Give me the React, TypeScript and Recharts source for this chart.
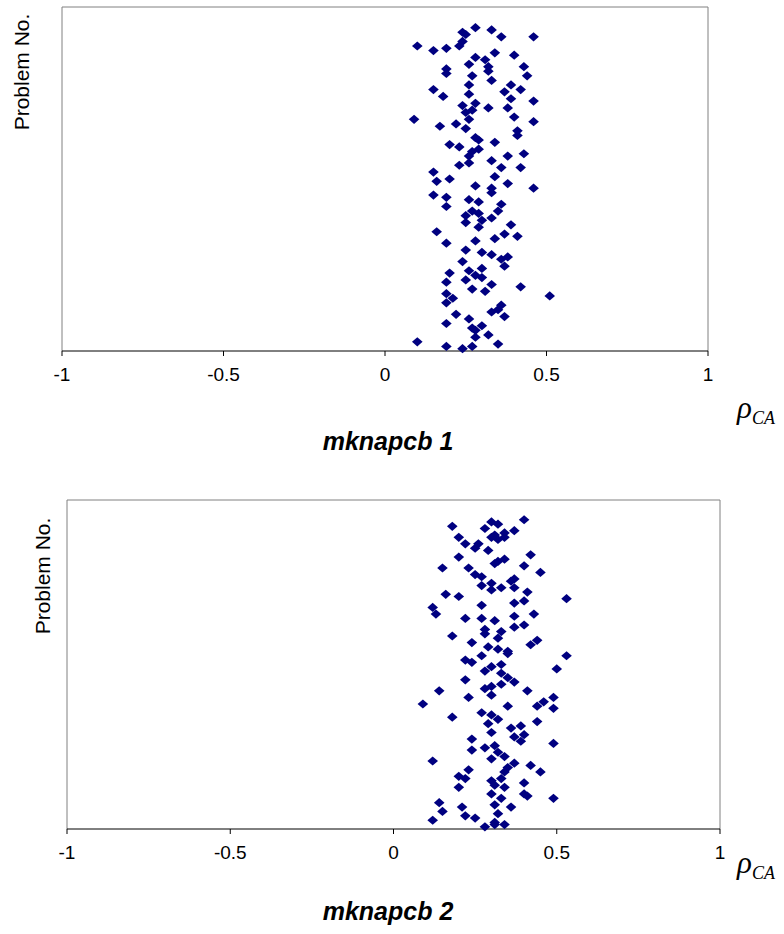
import React from "react";
import {
  ScatterChart, Scatter, XAxis, YAxis, ReferenceLine,
} from "recharts";

// rho_CA per problem (mknapcb 1)
const mknapcb1Rho = [
  0.28, 0.33, 0.24, 0.25, 0.36, 0.46, 0.24, 0.10, 0.23, 0.15, 0.19, 0.34, 0.40, 0.28, 0.31, 0.26,
  0.32, 0.43, 0.19, 0.19, 0.32, 0.44, 0.27, 0.33, 0.26, 0.39, 0.42, 0.15, 0.37, 0.18, 0.26, 0.39,
  0.46, 0.28, 0.24, 0.32, 0.38, 0.25, 0.27, 0.26, 0.40, 0.09, 0.46, 0.17, 0.22, 0.25, 0.41, 0.41,
  0.28, 0.29, 0.34, 0.20, 0.23, 0.27, 0.29, 0.26, 0.43, 0.38, 0.33, 0.26, 0.23, 0.36, 0.42, 0.15,
  0.34, 0.20, 0.16, 0.38, 0.28, 0.33, 0.46, 0.33, 0.15, 0.19, 0.26, 0.29, 0.19, 0.36, 0.27, 0.25,
  0.29, 0.35, 0.33, 0.30, 0.25, 0.29, 0.39, 0.16, 0.37, 0.41, 0.34, 0.19, 0.28, 0.25, 0.30, 0.33,
  0.38, 0.24, 0.36, 0.37, 0.30, 0.26, 0.20, 0.28, 0.30, 0.25, 0.19, 0.33, 0.42, 0.27, 0.31, 0.19,
  0.21, 0.51, 0.19, 0.36, 0.33, 0.35, 0.37, 0.22, 0.26, 0.19, 0.30, 0.27, 0.28, 0.32, 0.28, 0.10,
  0.35, 0.19, 0.27, 0.24,
];
const mknapcb1Problem = [
  141, 140, 139, 138, 137, 137, 135, 133, 133, 131, 132, 130, 129, 128, 127, 125,
  124, 124, 123, 121, 122, 120, 120, 118, 116, 116, 114, 114, 113, 111, 112, 110,
  109, 108, 107, 106, 106, 104, 105, 101, 102, 101, 100, 98, 99, 97, 96, 94,
  93, 92, 91, 90, 89, 87, 88, 85, 86, 85, 83, 82, 81, 80, 80, 78,
  76, 75, 74, 73, 72, 71, 71, 69, 68, 67, 66, 65, 63, 64, 61, 59,
  60, 61, 58, 57, 56, 54, 55, 52, 51, 50, 49, 47, 48, 44, 43, 42,
  41, 39, 40, 37, 36, 35, 34, 33, 32, 31, 30, 29, 28, 27, 26, 25,
  23, 24, 21, 20, 17, 18, 15, 16, 14, 12, 11, 10, 9, 7, 6, 4,
  3, 2, 2, 1,
];

// mknapcb 2
const mknapcb2Rho = [
  0.40, 0.30, 0.32, 0.18, 0.28, 0.37, 0.34, 0.31, 0.30, 0.34, 0.32, 0.20, 0.22, 0.26, 0.25, 0.29,
  0.20, 0.42, 0.34, 0.31, 0.32, 0.15, 0.40, 0.23, 0.45, 0.25, 0.27, 0.37, 0.36, 0.27, 0.30, 0.37,
  0.30, 0.33, 0.41, 0.16, 0.20, 0.53, 0.40, 0.37, 0.27, 0.12, 0.13, 0.37, 0.43, 0.22, 0.27, 0.31,
  0.40, 0.37, 0.28, 0.33, 0.18, 0.28, 0.32, 0.24, 0.42, 0.44, 0.29, 0.32, 0.35, 0.35, 0.27, 0.53,
  0.22, 0.24, 0.33, 0.30, 0.50, 0.28, 0.33, 0.35, 0.22, 0.37, 0.33, 0.30, 0.28, 0.14, 0.41, 0.30,
  0.23, 0.49, 0.46, 0.09, 0.44, 0.35, 0.49, 0.27, 0.30, 0.18, 0.32, 0.44, 0.29, 0.39, 0.36, 0.30,
  0.37, 0.40, 0.39, 0.24, 0.49, 0.28, 0.31, 0.24, 0.32, 0.34, 0.30, 0.12, 0.37, 0.42, 0.35, 0.45,
  0.23, 0.34, 0.20, 0.22, 0.33, 0.30, 0.40, 0.20, 0.34, 0.31, 0.30, 0.40, 0.41, 0.49, 0.33, 0.14,
  0.31, 0.36, 0.21, 0.15, 0.32, 0.22, 0.25, 0.12, 0.31, 0.31, 0.34, 0.28,
];
const mknapcb2Problem = [
  141, 140, 139, 138, 137, 136, 135, 134, 133, 133, 132, 133, 130, 130, 128, 127,
  124, 125, 123, 121, 122, 119, 120, 119, 117, 116, 115, 114, 113, 111, 112, 110,
  109, 110, 108, 107, 106, 105, 104, 103, 102, 101, 98, 97, 98, 96, 96, 95,
  93, 92, 91, 90, 88, 89, 87, 85, 84, 86, 83, 82, 81, 80, 79, 79,
  77, 76, 75, 74, 73, 72, 71, 69, 68, 67, 66, 65, 64, 63, 63, 61,
  60, 60, 58, 57, 56, 56, 55, 53, 52, 51, 50, 49, 48, 47, 46, 44,
  42, 43, 40, 41, 39, 37, 38, 36, 35, 33, 32, 31, 30, 29, 28, 26,
  27, 26, 24, 23, 23, 22, 21, 19, 19, 20, 16, 16, 15, 14, 14, 12,
  11, 10, 10, 8, 7, 6, 5, 4, 3, 2, 2, 1,
];

const xTicks = [-1, -0.5, 0, 0.5, 1];
const yDomain = [0, 150];

const NAVY = "#000080";
const BORDER = "#808080";
const SANS = "'Liberation Sans', Arial, sans-serif";
const SERIF = "'Liberation Serif', 'Times New Roman', serif";

// Excel-style diamond marker, a bit wider than tall
const Diamond = (props: any) => {
  const { cx, cy } = props;
  if (cx == null || cy == null) return null;
  const rx = 5.3;
  const ry = 4.6;
  return (
    <polygon
      points={`${cx},${cy - ry} ${cx + rx},${cy} ${cx},${cy + ry} ${cx - rx},${cy}`}
      fill={NAVY}
    />
  );
};

interface PanelProps {
  rho: number[];
  problem: number[];
  top: number;
  height: number;
  margin: { top: number; right: number; bottom: number; left: number };
}

function Panel({ rho, problem, top, height, margin }: PanelProps) {
  const data = rho.map((x, i) => ({ x, y: problem[i] }));
  return (
    <div style={{ position: "absolute", left: 0, top }}>
      <ScatterChart width={784} height={height} margin={margin}>
        <XAxis
          type="number"
          dataKey="x"
          domain={[-1, 1]}
          ticks={xTicks}
          tickFormatter={(v) => String(v)}
          axisLine={{ stroke: "#000", strokeWidth: 1 }}
          tickLine={{ stroke: "#000" }}
          tickSize={5}
          tickMargin={12}
          height={30}
          tick={{ fill: "#000", fontSize: 19, fontFamily: SANS }}
          interval={0}
        />
        <YAxis type="number" dataKey="y" domain={yDomain} hide />
        <ReferenceLine y={150} stroke={BORDER} />
        <ReferenceLine x={-1} stroke={BORDER} />
        <ReferenceLine x={1} stroke={BORDER} />
        <Scatter data={data} shape={Diamond} isAnimationActive={false} />
      </ScatterChart>
    </div>
  );
}

function Rho({ left, top }: { left: number; top: number }) {
  return (
    <div style={{ position: "absolute", left, top, fontFamily: SERIF, fontStyle: "italic", whiteSpace: "nowrap" }}>
      <span style={{ fontSize: 31 }}>ρ</span>
      <span style={{ fontSize: 18, position: "relative", top: 6 }}>CA</span>
    </div>
  );
}

function Title({ text, top }: { text: string; top: number }) {
  return (
    <div style={{
      position: "absolute", left: 238, width: 300, top, textAlign: "center", lineHeight: "25px",
      fontFamily: SANS, fontWeight: "bold", fontStyle: "italic", fontSize: 25,
    }}>
      {text}
    </div>
  );
}

function YLabel({ cx, cy }: { cx: number; cy: number }) {
  return (
    <div style={{
      position: "absolute", left: cx - 80, top: cy - 12, width: 160, height: 24,
      textAlign: "center", lineHeight: "24px", fontFamily: SANS, fontSize: 21,
      transform: "rotate(-90deg)", whiteSpace: "nowrap",
    }}>
      Problem No.
    </div>
  );
}

export default function App() {
  return (
    <div style={{ position: "absolute", left: 0, top: 0, width: 784, height: 934, background: "#fff" }}>
      <Panel
        rho={mknapcb1Rho}
        problem={mknapcb1Problem}
        top={0}
        height={470}
        margin={{ top: 7, right: 76, bottom: 89, left: 62 }}
      />
      <Panel
        rho={mknapcb2Rho}
        problem={mknapcb2Problem}
        top={470}
        height={464}
        margin={{ top: 30, right: 64, bottom: 75, left: 67 }}
      />
      <YLabel cx={22} cy={72} />
      <YLabel cx={43} cy={576} />
      <Rho left={737} top={390} />
      <Rho left={737} top={845} />
      <Title text="mknapcb 1" top={429} />
      <Title text="mknapcb 2" top={899} />
    </div>
  );
}
